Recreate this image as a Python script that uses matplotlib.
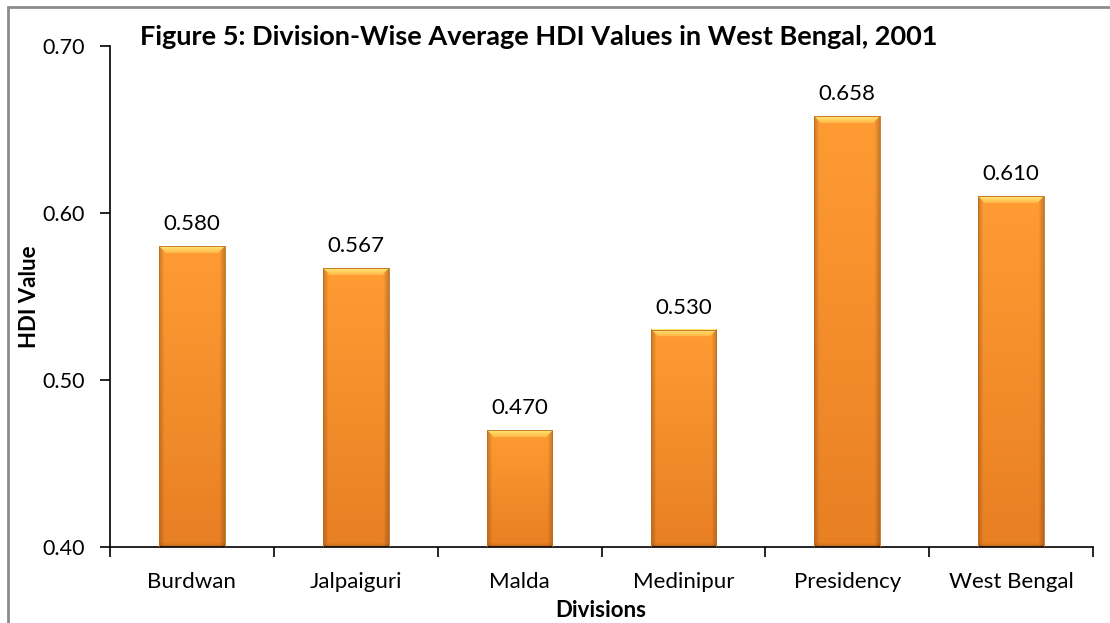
import numpy as np
import matplotlib.pyplot as plt
from matplotlib.patches import Rectangle

divisions = ['Burdwan', 'Jalpaiguri', 'Malda', 'Medinipur', 'Presidency', 'West Bengal']
hdi = [0.580, 0.567, 0.470, 0.530, 0.658, 0.610]
value_labels = ['0.580', '0.567', '0.470', '0.530', '0.658', '0.610']
yticks = [0.40, 0.50, 0.60, 0.70]

plt.rcParams['font.family'] = ['Lato', 'DejaVu Sans']

fig = plt.figure(figsize=(11.1, 6.23), dpi=100)
ax = fig.add_axes([0.0991, 0.122, 0.8856, 0.804])

x = np.arange(len(divisions))
bars = ax.bar(x, [v - 0.40 for v in hdi], bottom=0.40, width=0.4,
              color='none', edgecolor='none', zorder=2)
ax.set_xlim(-0.5, len(divisions) - 0.5)
ax.set_ylim(0.40, 0.70)


def bar_image(h_px, w_px):
    # shaded bar: light bevel on top, darker edges and bottom
    h_px = max(int(h_px), 2)
    w_px = max(int(w_px), 2)
    img = np.zeros((h_px, w_px, 3))
    top = np.array([1.0, 0.61, 0.20])
    bot = np.array([0.91, 0.50, 0.14])
    t = np.linspace(0, 1, h_px)[:, None]
    body = top * (1 - t) + bot * t
    img[:] = body[:, None, :]
    bev = 7
    for r in range(min(bev, h_px)):
        f = r / bev
        img[r, r:w_px - r] = np.array([1.0, 0.90, 0.45]) * (1 - f) + np.array([1.0, 0.70, 0.26]) * f
    edge = 5
    for c in range(edge):
        k = 0.80 + 0.2 * c / edge
        img[c:, c] *= k
        img[c:, w_px - 1 - c] *= k
    for r in range(4):
        img[h_px - 1 - r, :] *= 0.85 + 0.04 * r
    return np.clip(img, 0, 1)


fig.canvas.draw()
for b in bars:
    x0, y0 = b.get_x(), b.get_y()
    w, h = b.get_width(), b.get_height()
    p0 = ax.transData.transform((x0, y0))
    p1 = ax.transData.transform((x0 + w, y0 + h))
    img = bar_image(p1[1] - p0[1], p1[0] - p0[0])
    ax.imshow(img, extent=[x0, x0 + w, y0, y0 + h], aspect='auto',
              interpolation='bilinear', zorder=2)
    ax.add_patch(Rectangle((x0, y0), w, h, fill=False, edgecolor='#c06a1a',
                           linewidth=0.6, zorder=3))

for i, v in enumerate(hdi):
    ax.annotate(value_labels[i], (x[i], v), xytext=(0, 11.5), textcoords='offset points',
                ha='center', va='baseline', fontsize=16)

ax.set_xlim(-0.5, len(divisions) - 0.5)
ax.set_ylim(0.40, 0.70)
ax.set_yticks(yticks)
ax.set_yticklabels(['%.2f' % t for t in yticks], fontsize=15.5)
ax.set_xticks(x)
ax.set_xticklabels(divisions, fontsize=16)
ax.tick_params(axis='x', length=0, pad=18)
ax.set_xticks(np.arange(-0.5, len(divisions)), minor=True)
ax.tick_params(axis='x', which='minor', length=7, width=1.2, direction='out')
ax.tick_params(axis='y', length=7, width=1.2, direction='out', pad=11)

for s in ['top', 'right']:
    ax.spines[s].set_visible(False)
for s in ['left', 'bottom']:
    ax.spines[s].set_linewidth(1.2)

ax.set_ylabel('HDI Value', fontsize=16, fontweight='bold')
ax.yaxis.set_label_coords(-0.071, 0.5)
fig.text(601 / 1110, 1 - 617 / 623, 'Divisions', ha='center', va='baseline',
         fontsize=16, fontweight='bold')
fig.text(539 / 1110, 1 - 45 / 623, 'Figure 5: Division-Wise Average HDI Values in West Bengal, 2001',
         ha='center', va='baseline', fontsize=19.5, fontweight='bold')

# gray frame around the chart
fig.add_artist(Rectangle((8 / 1110, -0.1), 1.2, 1 - 7 / 623 + 0.1, transform=fig.transFigure,
                         fill=False, edgecolor='#8c8c8c', linewidth=2))

fig.savefig('out.png', dpi=100)
